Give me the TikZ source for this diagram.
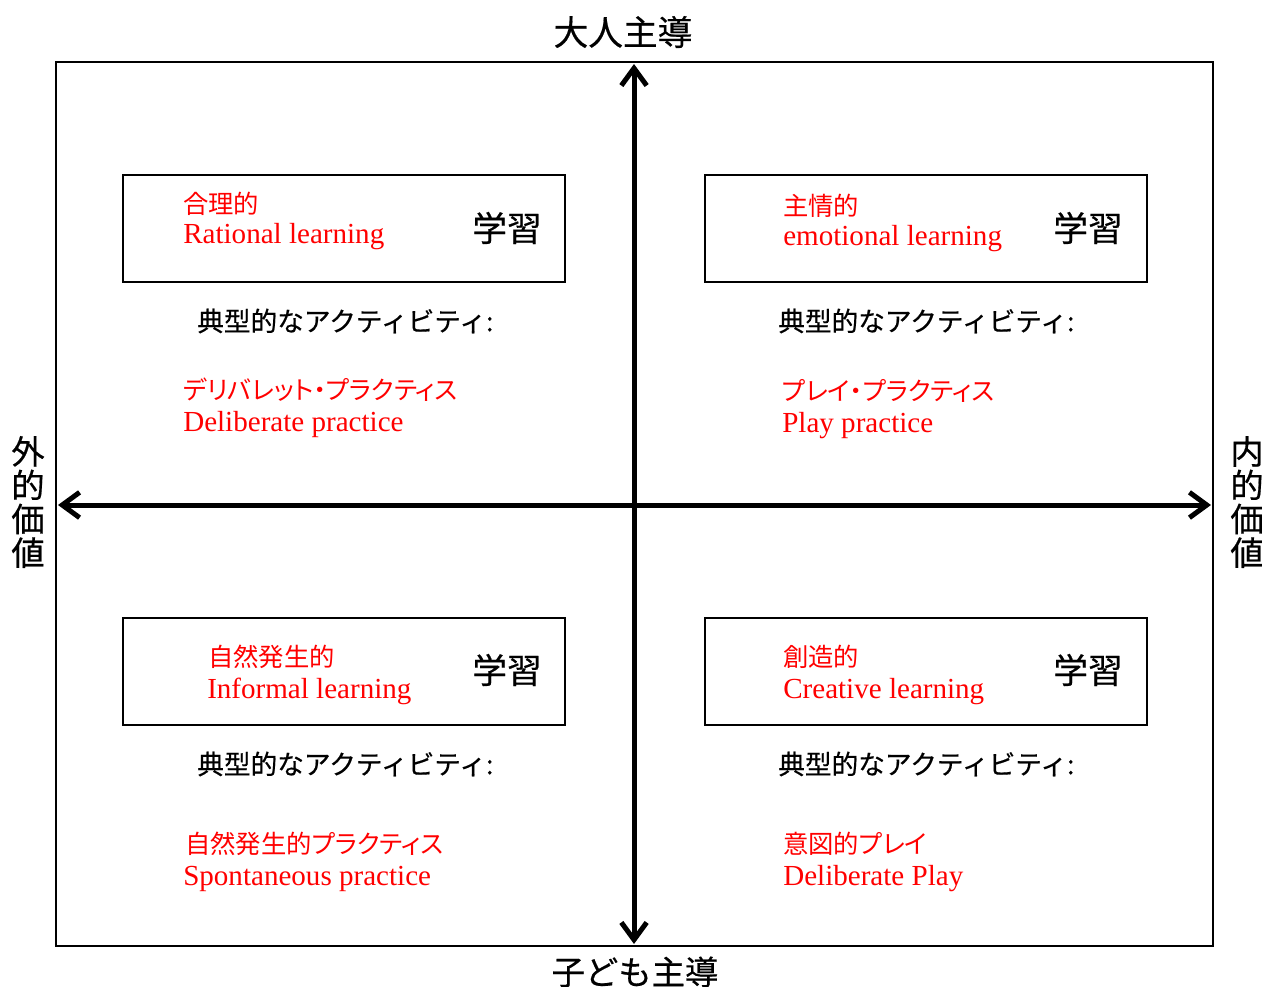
\documentclass[tikz,border=0pt]{standalone}
\usepackage{fontspec}
\setmainfont{Liberation Serif}
\newfontfamily\jp{Noto Sans CJK JP}
\newfontfamily\jpb[FakeBold=0.5]{Noto Sans CJK JP}
\newfontfamily\jpp[RawFeature=+palt]{Noto Sans CJK JP}
\usetikzlibrary{arrows.meta}
\begin{document}
\begin{tikzpicture}[x=0.75pt,y=-0.75pt,
  qbox/.style={draw, line width=1.5pt, minimum width=331.5pt, minimum height=80.25pt, inner sep=0pt},
  ax/.style={line width=3.75pt, {Straight Barb[length=13pt,width=19pt]}-{Straight Barb[length=13pt,width=19pt]}},
  rj/.style={text=red, font=\jpp\fontsize{19}{24}\selectfont, anchor=west, inner sep=0pt},
  rl/.style={text=red, font=\fontsize{21.8}{26}\selectfont, anchor=base west, inner sep=0pt},
  gaku/.style={font=\jpb\fontsize{26}{30}\selectfont, inner sep=0pt},
  typ/.style={font=\jpb\fontsize{20}{24}\selectfont, anchor=west, inner sep=0pt},
  axl/.style={font=\jpb\fontsize{26}{30}\selectfont, inner sep=0pt},
  sidel/.style={font=\jpb\fontsize{25}{25.3}\selectfont, inner sep=0pt, align=center},
]
\useasboundingbox (0,0) rectangle (1262,987);
% outer frame
\node[draw, line width=1.5pt, minimum width=867.75pt, minimum height=663pt, inner sep=0pt] (outer) at (634.5,504) {};
% axes
\coordinate (top) at (634,64);
\coordinate (bot) at (634,944);
\coordinate (lft) at (58,505);
\coordinate (rgt) at (1211,505);
\draw[ax] (bot) -- (top);
\draw[ax] (lft) -- (rgt);
% axis labels
\node[axl] (lbltop) at (623,32) {大人主導};
\node[axl, font=\jpb\fontsize{25}{30}\selectfont] (lblbot) at (635,972) {子ども主導};
\node[sidel] (lblleft) at (28,502) {外\\的\\価\\値};
\node[sidel] (lblright) at (1247,502) {内\\的\\価\\値};
% top-left
\node[qbox] (tl) at (344,228.5) {};
\node[rj] (tlj) at (183,204) {合理的};
\node[rl] (tle) at (183,244) {Rational learning};
\node[gaku] (tlg) at (507,228) {学習};
\node[typ] (tlt) at (197,321) {典型的なアクティビティ:};
\node[rj] (tlaj) at (183,390) {デリバレット・プラクティス};
\node[rl] (tlae) at (183,431) {Deliberate practice};
% top-right
\node[qbox] (tr) at (925.5,228.5) {};
\node[rj] (trj) at (783,206) {主情的};
\node[rl] (tre) at (783,246) {emotional learning};
\node[gaku] (trg) at (1088,228) {学習};
\node[typ] (trt) at (778,321) {典型的なアクティビティ:};
\node[rj] (traj) at (782,391) {プレイ・プラクティス};
\node[rl] (trae) at (782,432) {Play practice};
% bottom-left
\node[qbox] (bl) at (344,671.5) {};
\node[rj] (blj) at (208,657) {自然発生的};
\node[rl] (ble) at (207,698) {Informal learning};
\node[gaku] (blg) at (507,670) {学習};
\node[typ] (blt) at (197,764) {典型的なアクティビティ:};
\node[rj] (blaj) at (185,844) {自然発生的プラクティス};
\node[rl] (blae) at (183,885) {Spontaneous practice};
% bottom-right
\node[qbox] (br) at (925.5,671.5) {};
\node[rj] (brj) at (783,657) {創造的};
\node[rl] (bre) at (783,698) {Creative learning};
\node[gaku] (brg) at (1088,670) {学習};
\node[typ] (brt) at (778,764) {典型的なアクティビティ:};
\node[rj] (braj) at (783,844) {意図的プレイ};
\node[rl] (brae) at (783,885) {Deliberate Play};
\end{tikzpicture}
\end{document}
